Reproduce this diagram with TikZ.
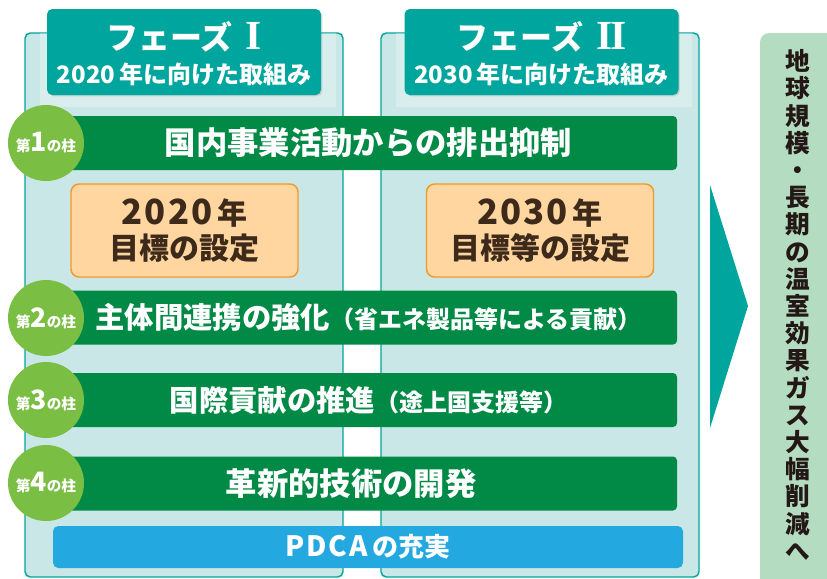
\documentclass[tikz,border=0pt]{standalone}
\usepackage{fontspec}
\setmainfont{Noto Sans CJK JP}[BoldFont={* Black}]
\newfontfamily\romfont{Liberation Serif}
\usepackage{tikz}
\usetikzlibrary{shapes,positioning,calc,shadows}

\definecolor{phaseteal}{RGB}{0,166,157}
\definecolor{panelfill}{RGB}{200,231,230}
\definecolor{pillargreen}{RGB}{0,138,69}
\definecolor{circlegreen}{RGB}{122,190,67}
\definecolor{goalfill}{RGB}{255,214,160}
\definecolor{goaldraw}{RGB}{243,152,43}
\definecolor{goaltext}{RGB}{62,42,26}
\definecolor{pdcablue}{RGB}{36,168,224}
\definecolor{aimfill}{RGB}{180,220,193}
\definecolor{aimtext}{RGB}{35,24,21}

\newcommand{\spaced}[2]{{\fontsize{#1}{#1}\selectfont\addfontfeature{LetterSpace=6}#2}}
\newcommand{\phasenum}[1]{{\romfont\bfseries\fontsize{31}{31}\selectfont #1}}

\begin{document}
\begin{tikzpicture}[x=0.75pt, y=-0.75pt,
	panel/.style={draw=phaseteal, line width=1.1pt, fill=panelfill, rounded corners=4pt,
		minimum width=238.5pt, minimum height=408pt, inner sep=0pt},
	header/.style={fill=phaseteal, rounded corners=4pt, minimum width=205.5pt, minimum height=64.5pt,
		inner sep=0pt, drop shadow={shadow xshift=1pt, shadow yshift=-1pt, opacity=0.25}},
	pillar/.style={fill=pillargreen, rounded corners=3pt, minimum width=462.75pt, minimum height=40.5pt,
		inner sep=0pt, text=white, font=\bfseries\fontsize{23.5}{26}\selectfont},
	num/.style={circle, fill=circlegreen, minimum size=57pt, inner sep=0pt, text=white, font=\bfseries},
	goal/.style={fill=goalfill, draw=goaldraw, line width=1.1pt, rounded corners=6pt,
		minimum width=170.25pt, minimum height=69.75pt, inner sep=0pt, align=center,
		text=goaltext, font=\bfseries\fontsize{22.5}{26}\selectfont},
	title/.style={text=white, font=\bfseries\fontsize{24}{26}\selectfont},
	subtitle/.style={text=white, font=\bfseries\fontsize{18}{20}\selectfont}]

	% panels
	\useasboundingbox (0,0) rectangle (827,578);
	\node[panel] (panelI) at (184,305) {};
	\node[panel] (panelII) at (540,305) {};
	\fill[white, opacity=0.3] (40,33) rectangle (336,107);
	\fill[white, opacity=0.3] (396,33) rectangle (692,107);

	% phase headers
	\node[header] (headI) at (184,52) {};
	\node[header] (headII) at (541.5,52) {};
	\node[title] (titleI) at (184,37) {フェーズ\hspace{10pt}\phasenum{I}};
	\node[subtitle] (subI) at (184,74) {2020\,年に向けた取組み};
	\node[title] (titleII) at (541.5,37) {フェーズ\hspace{10pt}\phasenum{I\kern-2ptI}};
	\node[subtitle] (subII) at (541.5,74) {2030\,年に向けた取組み};

	% pillars
	\node[pillar] (p1) at (368.5,143) {国内事業活動からの排出抑制};
	\node[pillar] (p2) at (368.5,317.5) {{\fontsize{22}{26}\selectfont 主体間連携の強化}{\fontsize{18}{22}\selectfont （省エネ製品等による貢献）}};
	\node[pillar] (p3) at (368.5,400) {{\fontsize{22}{26}\selectfont 国際貢献の推進}{\fontsize{18}{22}\selectfont （途上国支援等）}};
	\node[pillar] (p4) at (368.5,483.5) {};
	\node[text=white, font=\bfseries\fontsize{23.5}{26}\selectfont] (p4text) at (351,483.5) {革新的技術の開発};

	\foreach \n/\y in {1/143, 2/318, 3/400, 4/483}
		\node[num] (c\n) at (46,\y) {{\fontsize{11}{12}\selectfont 第}{\fontsize{20}{20}\selectfont\n}{\fontsize{11}{12}\selectfont の柱}};

	% targets
	\node[goal] (goalI) at (184.5,230.5) {\spaced{26}{2020}\,年\\目標の設定};
	\node[goal] (goalII) at (540,230.5) {\spaced{26}{2030}\,年\\目標等の設定};

	\node[fill=pdcablue, rounded corners=4pt, minimum width=472.5pt, minimum height=31.5pt, inner sep=0pt,
		text=white, font=\bfseries\fontsize{19.5}{22}\selectfont] (pdca) at (368,547) {\spaced{21}{PDCA}\,の充実};

	% arrow and aim
	\coordinate (atop) at (710,185);
	\coordinate (atip) at (748,306);
	\coordinate (abot) at (710,428);
	\fill[phaseteal] (atop) -- (atip) -- (abot) -- cycle;
	\node[fill=aimfill, rounded corners=7pt, minimum width=60pt, minimum height=417.75pt, inner sep=0pt] (aim) at (800,311.5) {};
	\node[align=center, text=aimtext, font=\bfseries\fontsize{18.5}{20.4}\selectfont] (aimtext) at (798,305)
		{地\\球\\規\\模\\・\\長\\期\\の\\温\\室\\効\\果\\ガ\\ス\\大\\幅\\削\\減\\へ};
\end{tikzpicture}
\end{document}
